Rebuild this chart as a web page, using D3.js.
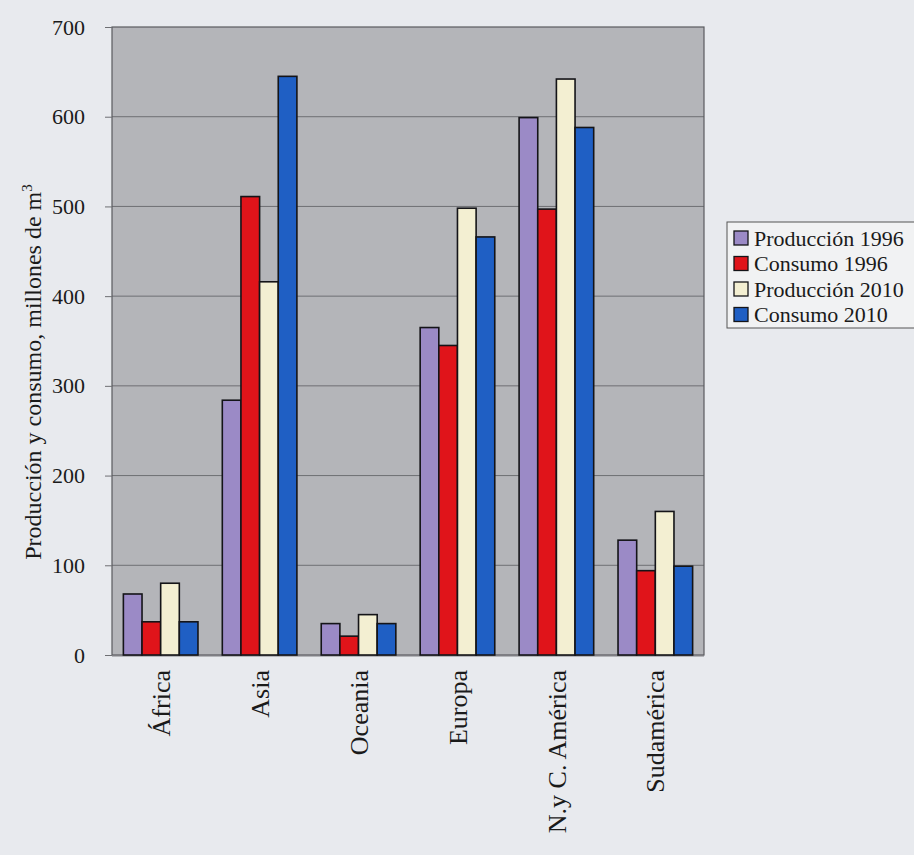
<!DOCTYPE html>
<html>
<head>
<meta charset="utf-8">
<script src="https://cdn.jsdelivr.net/npm/d3@7/dist/d3.min.js"></script>
<style>
  html, body { margin: 0; padding: 0; background: #e8eaee; }
  svg { display: block; }
  text { font-family: "Liberation Serif", "DejaVu Serif", serif; fill: #1a1a1a; }
</style>
</head>
<body>
<svg id="chart" width="914" height="855"></svg>
<script>
// Regions (x axis categories)
const regions = ["África", "Asia", "Oceania", "Europa", "N.y C. América", "Sudamérica"];

// Series names (legend)
const seriesNames = ["Producción 1996", "Consumo 1996", "Producción 2010", "Consumo 2010"];

// Values in millions of m³, one array per series, in region order
const produccion1996 = [68, 284, 35, 365, 599, 128];
const consumo1996    = [37, 511, 21, 345, 497, 94];
const produccion2010 = [80, 416, 45, 498, 642, 160];
const consumo2010    = [37, 645, 35, 466, 588, 99];

// Y axis ticks
const yTicks = [0, 100, 200, 300, 400, 500, 600, 700];

const seriesValues = [produccion1996, consumo1996, produccion2010, consumo2010];
const seriesColors = ["#9b8ac6", "#e0141a", "#f3efd2", "#1f5fc4"];

const svg = d3.select("#chart");

const plot = { left: 112, right: 704, top: 27, bottom: 655 };

const x0 = d3.scaleBand()
  .domain(regions)
  .range([plot.left, plot.right])
  .paddingInner(0.246)
  .paddingOuter(0.115);

const x1 = d3.scaleBand()
  .domain(seriesNames)
  .range([0, x0.bandwidth()])
  .padding(0);

const y = d3.scaleLinear()
  .domain([0, 700])
  .range([plot.bottom, plot.top]);

// Plot background
svg.append("rect")
  .attr("x", plot.left)
  .attr("y", plot.top)
  .attr("width", plot.right - plot.left)
  .attr("height", plot.bottom - plot.top + 2)
  .attr("fill", "#b4b5b9");

// Horizontal gridlines
svg.append("g")
  .selectAll("line")
  .data(yTicks.filter(t => t > 0 && t < 700))
  .join("line")
  .attr("x1", plot.left)
  .attr("x2", plot.right)
  .attr("y1", d => y(d))
  .attr("y2", d => y(d))
  .attr("stroke", "#6e6f73")
  .attr("stroke-width", 1);

// Plot border
svg.append("rect")
  .attr("x", plot.left)
  .attr("y", plot.top)
  .attr("width", plot.right - plot.left)
  .attr("height", plot.bottom - plot.top)
  .attr("fill", "none")
  .attr("stroke", "#5a5b5f")
  .attr("stroke-width", 1.2);

// Bars
const groups = svg.append("g")
  .selectAll("g")
  .data(regions)
  .join("g")
  .attr("transform", d => `translate(${x0(d)},0)`);

groups.selectAll("rect")
  .data((r, i) => seriesNames.map((s, k) => ({ s, k, v: seriesValues[k][i] })))
  .join("rect")
  .attr("x", d => x1(d.s))
  .attr("y", d => y(d.v))
  .attr("width", x1.bandwidth())
  .attr("height", d => y(0) - y(d.v))
  .attr("fill", d => seriesColors[d.k])
  .attr("stroke", "#141418")
  .attr("stroke-width", 1.6);

// Y axis
const yAxis = d3.axisLeft(y)
  .tickValues(yTicks)
  .tickSize(7)
  .tickPadding(20)
  .tickFormat(d3.format("d"));

const gy = svg.append("g")
  .attr("transform", `translate(${plot.left},0)`)
  .call(yAxis);
gy.select(".domain").remove();
gy.selectAll(".tick line").attr("stroke", "#6e6f73");
gy.selectAll(".tick text")
  .style("font-family", '"Liberation Serif", serif')
  .style("font-size", "22px")
  .attr("fill", "#1a1a1a");

// X axis labels (rotated)
const xAxis = d3.axisBottom(x0).tickSize(0).tickPadding(0);
const gx = svg.append("g")
  .attr("transform", `translate(0,${plot.bottom})`)
  .call(xAxis);
gx.select(".domain").remove();
gx.selectAll(".tick text")
  .attr("transform", "translate(0,15) rotate(-90)")
  .attr("x", 0)
  .attr("y", 0)
  .attr("dy", "0.35em")
  .attr("text-anchor", "end")
  .style("font-family", '"Liberation Serif", serif')
  .style("font-size", "26px")
  .attr("fill", "#1a1a1a");

// Y axis title
svg.append("text")
  .attr("transform", "translate(41,372) rotate(-90)")
  .attr("text-anchor", "middle")
  .style("font-size", "24px")
  .html('Producción y consumo,  millones de m<tspan dy="-9" font-size="15">3</tspan>');

// Legend
const legend = svg.append("g").attr("transform", "translate(727,222)");
legend.append("rect")
  .attr("x", 0)
  .attr("y", 0)
  .attr("width", 200)
  .attr("height", 106)
  .attr("fill", "#f1f2f3")
  .attr("stroke", "#555")
  .attr("stroke-width", 1);

const rowH = 25.5;
const items = legend.selectAll("g.item")
  .data(seriesNames)
  .join("g")
  .attr("class", "item")
  .attr("transform", (d, i) => `translate(7,${16 + i * rowH})`);

items.append("rect")
  .attr("x", 0)
  .attr("y", -7)
  .attr("width", 14)
  .attr("height", 14)
  .attr("fill", (d, i) => seriesColors[i])
  .attr("stroke", "#141418")
  .attr("stroke-width", 1.3);

items.append("text")
  .attr("x", 20)
  .attr("y", 0)
  .attr("dy", "0.35em")
  .style("font-size", "22px")
  .text(d => d);
</script>
</body>
</html>
